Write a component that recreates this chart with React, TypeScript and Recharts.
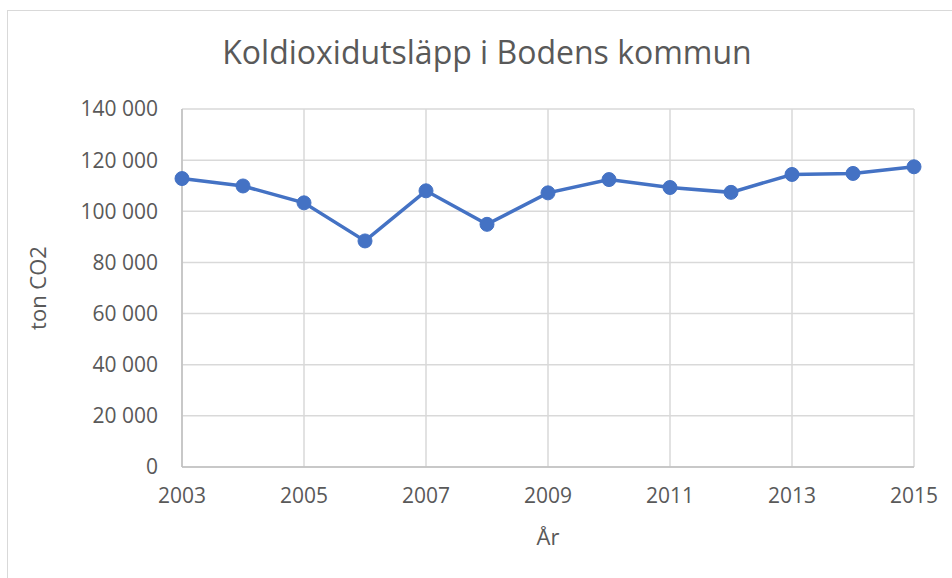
import { LineChart, Line, XAxis, YAxis, CartesianGrid } from "recharts"

const years = [2003, 2004, 2005, 2006, 2007, 2008, 2009, 2010, 2011, 2012, 2013, 2014, 2015]
const emissions = [112800, 109900, 103300, 88400, 108000, 94900, 107200, 112400, 109300, 107400, 114400, 114800, 117400]
const xTicks = [2003, 2005, 2007, 2009, 2011, 2013, 2015]
const yTicks = [0, 20000, 40000, 60000, 80000, 100000, 120000, 140000]

const data = years.map((year, i) => ({ year, value: emissions[i] }))

const FONT = "'Open Sans', sans-serif"
const TEXT = "#595959"

const fmt = (v: number) => v.toLocaleString("en-US").replace(/,/g, " ")

export default function App() {
  return (
    <div style={{ position: "absolute", left: 0, top: 0, width: 952, height: 578, background: "#fff", fontFamily: FONT }}>
      <div
        style={{
          position: "absolute",
          left: 7,
          top: 10,
          right: -2,
          bottom: -2,
          borderLeft: "1.5px solid #d9d9d9",
          borderTop: "1.5px solid #d9d9d9",
        }}
      />
      <div
        style={{
          position: "absolute",
          left: 0,
          width: 974,
          top: 30,
          textAlign: "center",
          fontSize: 32,
          color: TEXT,
          lineHeight: "44px",
        }}
      >
        Koldioxidutsläpp i Bodens kommun
      </div>
      <LineChart
        width={952}
        height={578}
        data={data}
        margin={{ top: 109, right: 38, bottom: 31, left: 0 }}
        style={{ position: "absolute", left: 0, top: 0 }}
      >
        <CartesianGrid stroke="#d9d9d9" strokeWidth={1.5} />
        <XAxis
          dataKey="year"
          type="number"
          domain={[2003, 2015]}
          ticks={xTicks}
          height={80}
          tickSize={0}
          tickMargin={21}
          axisLine={{ stroke: "#bfbfbf", strokeWidth: 1.5 }}
          tickLine={false}
          tick={{ fill: TEXT, fontSize: 21, fontFamily: FONT }}
          label={{ value: "År", position: "insideBottom", offset: 2, fill: TEXT, fontSize: 22, fontFamily: FONT }}
        />
        <YAxis
          domain={[0, 140000]}
          ticks={yTicks}
          width={182}
          tickSize={0}
          tickMargin={24}
          tickFormatter={fmt}
          axisLine={{ stroke: "#bfbfbf", strokeWidth: 1.5 }}
          tickLine={false}
          tick={{ fill: TEXT, fontSize: 21, fontFamily: FONT }}
          label={{ value: "ton CO2", angle: -90, position: "center", dx: -53, fill: TEXT, fontSize: 22, fontFamily: FONT }}
        />
        <Line
          dataKey="value"
          stroke="#4472C4"
          strokeWidth={3.5}
          dot={{ r: 7, fill: "#4472C4", stroke: "#4472C4", strokeWidth: 1 }}
          isAnimationActive={false}
        />
      </LineChart>
    </div>
  )
}
